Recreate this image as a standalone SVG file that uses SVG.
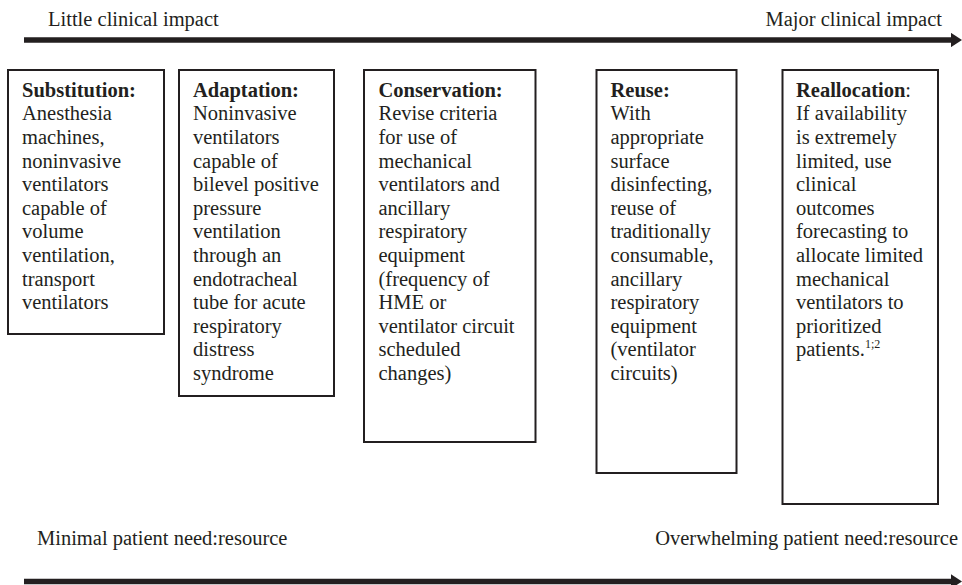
<svg xmlns="http://www.w3.org/2000/svg" width="962" height="585" viewBox="0 0 962 585">
<style>
text{font-family:"Liberation Serif","Times New Roman",serif;font-size:20.5px;fill:#231f20}
.b{font-weight:bold}
.box{fill:#fff;stroke:#231f20;stroke-width:2}
.ax{stroke:#231f20;stroke-width:5.5;fill:none}
.sup{font-size:12px}
</style>
<defs>
<marker id="ah" viewBox="0 0 10 10" refX="0" refY="5" markerWidth="2" markerHeight="2.6" markerUnits="strokeWidth" orient="auto" preserveAspectRatio="none">
<path d="M0,0 L10,5 L0,10 Z" fill="#231f20"/>
</marker>
</defs>
<rect width="962" height="585" fill="#fff"/>
<g id="labels">
<text x="48" y="26">Little clinical impact</text>
<text x="942" y="26" text-anchor="end">Major clinical impact</text>
<text x="37" y="545">Minimal patient need:resource</text>
<text x="958" y="545" text-anchor="end">Overwhelming patient need:resource</text>
</g>
<g id="connectors">
<line class="ax" x1="24" y1="40" x2="951" y2="40" marker-end="url(#ah)"/>
<line class="ax" x1="24" y1="581.5" x2="951" y2="581.5" marker-end="url(#ah)"/>
</g>
<g id="substitution">
<rect class="box" x="8" y="70" width="156" height="264"/>
<text x="22" y="96.7"><tspan class="b">Substitution:</tspan><tspan x="22" dy="23.6">Anesthesia</tspan><tspan x="22" dy="23.6">machines,</tspan><tspan x="22" dy="23.6">noninvasive</tspan><tspan x="22" dy="23.6">ventilators</tspan><tspan x="22" dy="23.6">capable of</tspan><tspan x="22" dy="23.6">volume</tspan><tspan x="22" dy="23.6">ventilation,</tspan><tspan x="22" dy="23.6">transport</tspan><tspan x="22" dy="23.6">ventilators</tspan></text>
</g>
<g id="adaptation">
<rect class="box" x="179" y="70" width="155" height="326"/>
<text x="193" y="96.7"><tspan class="b">Adaptation:</tspan><tspan x="193" dy="23.6">Noninvasive</tspan><tspan x="193" dy="23.6">ventilators</tspan><tspan x="193" dy="23.6">capable of</tspan><tspan x="193" dy="23.6">bilevel positive</tspan><tspan x="193" dy="23.6">pressure</tspan><tspan x="193" dy="23.6">ventilation</tspan><tspan x="193" dy="23.6">through an</tspan><tspan x="193" dy="23.6">endotracheal</tspan><tspan x="193" dy="23.6">tube for acute</tspan><tspan x="193" dy="23.6">respiratory</tspan><tspan x="193" dy="23.6">distress</tspan><tspan x="193" dy="23.6">syndrome</tspan></text>
</g>
<g id="conservation">
<rect class="box" x="364" y="70" width="171.5" height="372"/>
<text x="378.5" y="96.7"><tspan class="b">Conservation:</tspan><tspan x="378.5" dy="23.6">Revise criteria</tspan><tspan x="378.5" dy="23.6">for use of</tspan><tspan x="378.5" dy="23.6">mechanical</tspan><tspan x="378.5" dy="23.6">ventilators and</tspan><tspan x="378.5" dy="23.6">ancillary</tspan><tspan x="378.5" dy="23.6">respiratory</tspan><tspan x="378.5" dy="23.6">equipment</tspan><tspan x="378.5" dy="23.6">(frequency of</tspan><tspan x="378.5" dy="23.6">HME or</tspan><tspan x="378.5" dy="23.6">ventilator circuit</tspan><tspan x="378.5" dy="23.6">scheduled</tspan><tspan x="378.5" dy="23.6">changes)</tspan></text>
</g>
<g id="reuse">
<rect class="box" x="596.5" y="70" width="140" height="403"/>
<text x="610.5" y="96.7"><tspan class="b">Reuse:</tspan><tspan x="610.5" dy="23.6">With</tspan><tspan x="610.5" dy="23.6">appropriate</tspan><tspan x="610.5" dy="23.6">surface</tspan><tspan x="610.5" dy="23.6">disinfecting,</tspan><tspan x="610.5" dy="23.6">reuse of</tspan><tspan x="610.5" dy="23.6">traditionally</tspan><tspan x="610.5" dy="23.6">consumable,</tspan><tspan x="610.5" dy="23.6">ancillary</tspan><tspan x="610.5" dy="23.6">respiratory</tspan><tspan x="610.5" dy="23.6">equipment</tspan><tspan x="610.5" dy="23.6">(ventilator</tspan><tspan x="610.5" dy="23.6">circuits)</tspan></text>
</g>
<g id="reallocation">
<rect class="box" x="782.5" y="70" width="155.5" height="434"/>
<text x="796" y="96.7"><tspan class="b">Reallocation</tspan><tspan>:</tspan><tspan x="796" dy="23.6">If availability</tspan><tspan x="796" dy="23.6">is extremely</tspan><tspan x="796" dy="23.6">limited, use</tspan><tspan x="796" dy="23.6">clinical</tspan><tspan x="796" dy="23.6">outcomes</tspan><tspan x="796" dy="23.6">forecasting to</tspan><tspan x="796" dy="23.6">allocate limited</tspan><tspan x="796" dy="23.6">mechanical</tspan><tspan x="796" dy="23.6">ventilators to</tspan><tspan x="796" dy="23.6">prioritized</tspan><tspan x="796" dy="23.6">patients.</tspan><tspan class="sup" dy="-8">1;2</tspan></text>
</g>
</svg>
